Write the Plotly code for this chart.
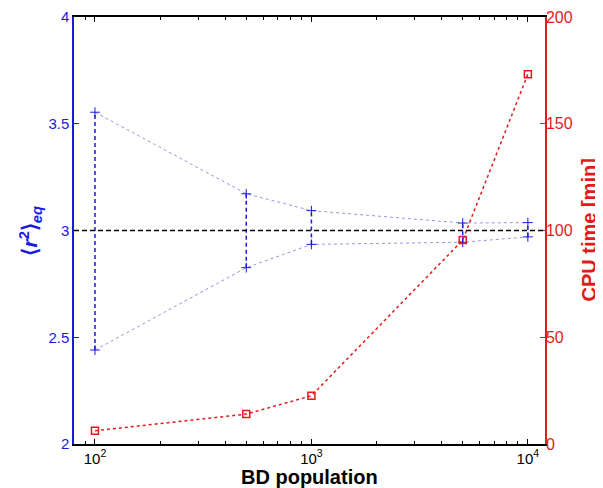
import plotly.graph_objects as go
import math

population = [100, 500, 1000, 5000, 10000]
r2_upper = [3.554, 3.172, 3.093, 3.035, 3.037]
r2_lower = [2.440, 2.826, 2.935, 2.945, 2.970]
r2_mean = 3.0
cpu_time = [6.2, 14.0, 22.6, 95.5, 173.2]

BLUE = "#1a1adf"
RED = "#e41a1a"
FONT = "Liberation Sans, Arial, sans-serif"

fig = go.Figure()

# vertical error bars
ex, ey = [], []
for p, lo, hi in zip(population, r2_lower, r2_upper):
    ex += [p, p, None]
    ey += [lo, hi, None]
fig.add_trace(go.Scatter(x=ex, y=ey, mode="lines",
                         line=dict(color=BLUE, width=1.5, dash="4px,3px"),
                         showlegend=False, hoverinfo="skip"))
# upper and lower envelopes
for arr in (r2_upper, r2_lower):
    fig.add_trace(go.Scatter(x=population, y=arr, mode="lines+markers",
                             line=dict(color="#7a7ad8", width=0.8, dash="dot"),
                             marker=dict(symbol="cross-thin", size=7,
                                         line=dict(color=BLUE, width=1)),
                             showlegend=False))

# CPU time
fig.add_trace(go.Scatter(x=population, y=cpu_time, yaxis="y2",
                         mode="lines+markers",
                         line=dict(color=RED, width=1.5, dash="dot"),
                         marker=dict(symbol="square-open", size=7,
                                     line=dict(color=RED, width=1.5)),
                         showlegend=False))

fig.add_shape(type="line", xref="paper", x0=0, x1=1, yref="y", y0=r2_mean, y1=r2_mean,
              line=dict(color="black", width=1.5, dash="5px,3px"))

minor_vals = [90] + [k * 100 for k in range(2, 10)] + [k * 1000 for k in range(2, 10)]

fig.add_annotation(text="<b>BD population</b>", xref="paper", yref="paper",
                   x=0.5, y=0, xanchor="center", yanchor="middle", yshift=-33,
                   showarrow=False, font=dict(size=20, color="black"))
fig.add_annotation(text="<b>⟨<i>r</i><sup>2</sup>⟩<sub><i>eq</i></sub></b>",
                   xref="paper", yref="paper", x=0, y=0.5, textangle=-90,
                   xanchor="center", yanchor="middle", xshift=-44,
                   showarrow=False, font=dict(size=21, color=BLUE))
fig.add_annotation(text="<b>CPU time [min]</b>", xref="paper", yref="paper",
                   x=1, y=0.5, textangle=-90, xanchor="center", yanchor="middle",
                   xshift=43, showarrow=False, font=dict(size=20, color=RED))

fig.update_layout(
    width=595, height=480,
    margin=dict(l=66, r=58, t=9, b=44),
    plot_bgcolor="white", paper_bgcolor="white",
    font=dict(family=FONT, size=15, color="black"),
    xaxis=dict(type="log", range=[math.log10(80), math.log10(12000)],
               automargin=False,
               tickvals=[100, 1000, 10000],
               ticktext=["10<sup>2</sup>", "10<sup>3</sup>", "10<sup>4</sup>"],
               ticks="inside", ticklen=5, tickcolor="black",
               showline=True, linecolor="black", linewidth=1.5, mirror="ticks",
               showgrid=False, zeroline=False,
               minor=dict(tickvals=minor_vals, ticks="inside", ticklen=3,
                          tickcolor="black", showgrid=False),
               tickfont=dict(size=15)),
    yaxis=dict(range=[2, 4], tickvals=[2, 2.5, 3, 3.5, 4],
               ticktext=["2", "2.5", "3", "3.5", "4"],
               automargin=False,
               ticks="inside", ticklen=5, tickcolor=BLUE,
               showline=True, linecolor=BLUE, linewidth=1.5,
               showgrid=False, zeroline=False,
               tickfont=dict(color=BLUE, size=15)),
    yaxis2=dict(range=[0, 200], overlaying="y", side="right",
                tickvals=[0, 50, 100, 150, 200],
                automargin=False,
                ticks="inside", ticklen=5, tickcolor=RED,
                ticklabelstandoff=-4,
                showline=True, linecolor=RED, linewidth=1.5,
                showgrid=False, zeroline=False,
                tickfont=dict(color=RED, size=16)),
)

fig.write_html("out.html")
